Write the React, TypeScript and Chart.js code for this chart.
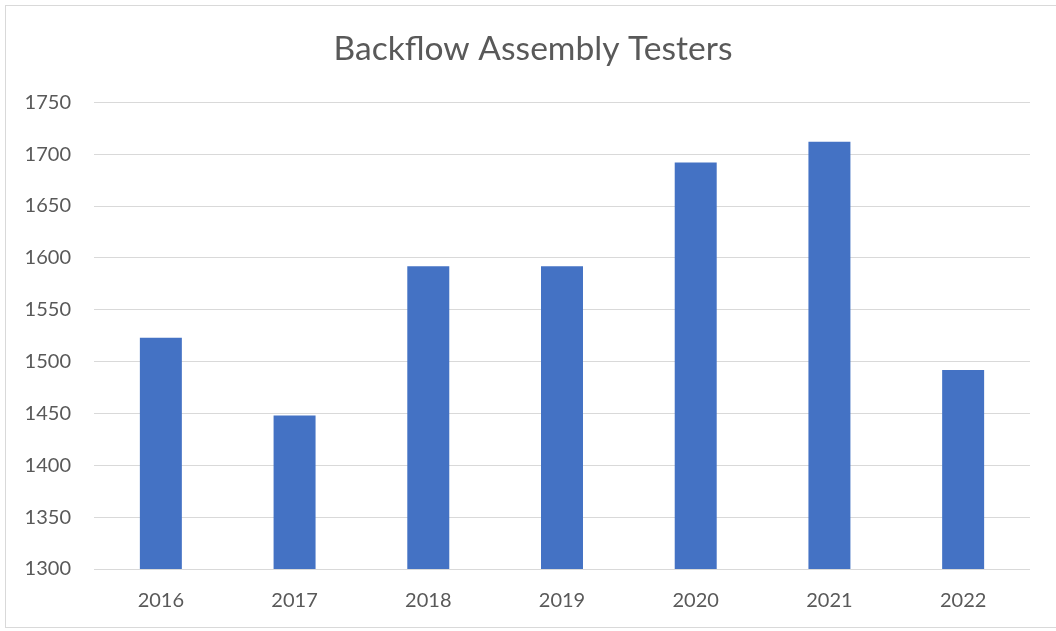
import React, { useEffect, useRef } from "react";
import { Chart, registerables } from "chart.js";

Chart.register(...registerables);

const categories = ["2016", "2017", "2018", "2019", "2020", "2021", "2022"];
const testers = [1523, 1448, 1592, 1592, 1692, 1712, 1492];
const yMin = 1300;
const yMax = 1750;
const yStep = 50;
const chartTitle = "Backflow Assembly Testers";

const FONT = "Lato, 'Open Sans', sans-serif";
const TEXT = "#595959";
const GRID = "#D9D9D9";
const BAR = "#4472C4";

export default function App() {
  const canvasRef = useRef<HTMLCanvasElement | null>(null);

  useEffect(() => {
    const ctx = canvasRef.current;
    if (!ctx) return;
    const chart = new Chart(ctx, {
      type: "bar",
      data: {
        labels: categories,
        datasets: [
          {
            label: "Testers",
            data: testers,
            backgroundColor: BAR,
            borderWidth: 0,
            categoryPercentage: 1,
            barPercentage: 0.314,
          },
        ],
      },
      options: {
        animation: false,
        responsive: true,
        maintainAspectRatio: false,
        layout: { padding: { left: 10, right: 0, top: 0, bottom: 18 } },
        plugins: {
          legend: { display: false },
          tooltip: { enabled: false },
          title: {
            display: true,
            text: chartTitle,
            color: TEXT,
            font: { family: FONT, size: 33.6, weight: "normal" },
            padding: { top: 29, bottom: 33 },
          },
        },
        scales: {
          x: {
            afterFit: (s: any) => {
              s.height = 44;
            },
            grid: { display: false, drawTicks: false },
            border: { display: false },
            ticks: {
              color: TEXT,
              font: { family: FONT, size: 20 },
              padding: 20,
              maxRotation: 0,
            },
          },
          y: {
            min: yMin,
            max: yMax,
            afterFit: (s: any) => {
              s.width = 84;
            },
            grid: { color: GRID, lineWidth: 1, drawTicks: false },
            border: { display: false },
            ticks: {
              stepSize: yStep,
              color: TEXT,
              font: { family: FONT, size: 20 },
              padding: 23,
              callback: (v: any) => String(v),
            },
          },
          ySpacer: {
            type: "linear",
            position: "right",
            min: yMin,
            max: yMax,
            afterFit: (s: any) => {
              s.width = 26;
            },
            grid: { display: false, drawTicks: false },
            border: { display: false },
            ticks: { display: false },
          },
        },
      },
    });
    return () => chart.destroy();
  }, []);

  return (
    <div
      style={{
        position: "fixed",
        left: 0,
        top: 0,
        width: 1056,
        height: 631,
        overflow: "hidden",
        background: "#fff",
      }}
    >
      <div
        style={{
          position: "absolute",
          left: 5,
          top: 5,
          width: 1070,
          height: 623,
          border: "1px solid #D9D9D9",
          boxSizing: "border-box",
        }}
      />
      <div style={{ position: "absolute", left: 0, top: 0, width: 1056, height: 631 }}>
        <canvas ref={canvasRef} />
      </div>
    </div>
  );
}
